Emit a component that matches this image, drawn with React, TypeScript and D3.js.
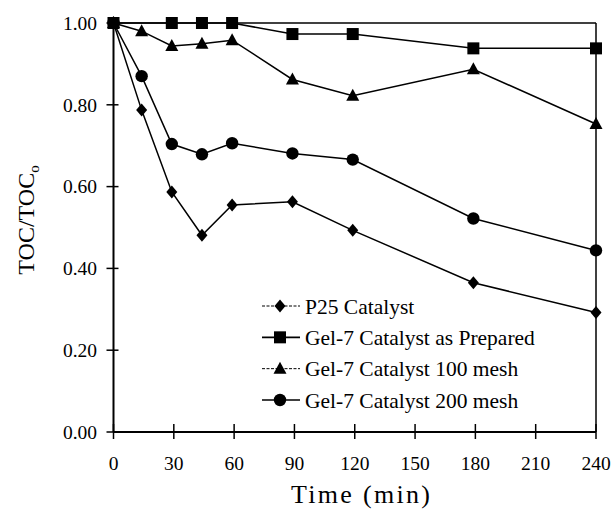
import React from "react";
import * as d3 from "d3";

const seriesNames = [
  "P25 Catalyst",
  "Gel-7 Catalyst as Prepared",
  "Gel-7 Catalyst 100 mesh",
  "Gel-7 Catalyst 200 mesh",
];
const timesP25 = [0, 14, 29, 44, 59, 89, 119, 179, 240];
const valuesP25 = [1.0, 0.787, 0.587, 0.481, 0.555, 0.563, 0.493, 0.365, 0.292];
const timesPrepared = [0, 29, 44, 59, 89, 119, 179, 240];
const valuesPrepared = [1.0, 1.0, 1.0, 1.0, 0.973, 0.973, 0.938, 0.938];
const times100 = [0, 14, 29, 44, 59, 89, 119, 179, 240];
const values100 = [1.0, 0.98, 0.944, 0.949, 0.958, 0.862, 0.822, 0.887, 0.753];
const times200 = [0, 14, 29, 44, 59, 89, 119, 179, 240];
const values200 = [1.0, 0.87, 0.704, 0.679, 0.706, 0.681, 0.666, 0.522, 0.444];
const xTicks = [0, 30, 60, 90, 120, 150, 180, 210, 240];
const yTicks = [0, 0.2, 0.4, 0.6, 0.8, 1.0];

const W = 613;
const H = 518;
const FONT = "'Liberation Serif', 'Times New Roman', serif";

type Shape = "diamond" | "square" | "triangle" | "circle";

function Marker({ shape, x, y }: { shape: Shape; x: number; y: number }) {
  if (shape === "square") return <rect x={x - 6} y={y - 6} width={12} height={12} fill="#000" />;
  if (shape === "circle") return <circle cx={x} cy={y} r={6.2} fill="#000" />;
  if (shape === "triangle")
    return <path d={`M${x},${y - 7} L${x + 6.5},${y + 5} L${x - 6.5},${y + 5} Z`} fill="#000" />;
  return <path d={`M${x},${y - 6.5} L${x + 5.5},${y} L${x},${y + 6.5} L${x - 5.5},${y} Z`} fill="#000" />;
}

export default function App() {
  const x = d3.scaleLinear().domain([0, 240]).range([113.5, 596]);
  const y = d3.scaleLinear().domain([0, 1]).range([432, 23]);
  const line = d3
    .line<[number, number]>()
    .x((d) => x(d[0]))
    .y((d) => y(d[1]));

  const series: { name: string; t: number[]; v: number[]; shape: Shape; dash?: string }[] = [
    { name: seriesNames[0], t: timesP25, v: valuesP25, shape: "diamond", dash: "3,1.5" },
    { name: seriesNames[2], t: times100, v: values100, shape: "triangle", dash: "3,1.5" },
    { name: seriesNames[3], t: times200, v: values200, shape: "circle" },
    { name: seriesNames[1], t: timesPrepared, v: valuesPrepared, shape: "square" },
  ];
  const legendOrder = [series[0], series[3], series[1], series[2]];
  const legendY = d3.scaleLinear().domain([0, 3]).range([306, 400]);

  return (
    <svg width={W} height={H} style={{ display: "block", position: "absolute", left: 0, top: 0, background: "#fff" }}>
      <rect x={0} y={0} width={W} height={H} fill="#fff" />
      {/* frame */}
      <line x1={x(0)} x2={x(240)} y1={y(1)} y2={y(1)} stroke="#000" strokeWidth={1.5} />
      <line x1={x(240)} x2={x(240)} y1={y(1)} y2={y(0)} stroke="#000" strokeWidth={1.5} />
      {/* axes */}
      <line x1={x(0)} x2={x(0)} y1={y(1)} y2={y(0)} stroke="#000" strokeWidth={2} />
      <line x1={x(0)} x2={x(240)} y1={y(0)} y2={y(0)} stroke="#000" strokeWidth={2} />
      {yTicks.map((t) => (
        <g key={"y" + t}>
          <line x1={x(0) - 7} x2={x(0) + 5} y1={y(t)} y2={y(t)} stroke="#000" strokeWidth={1.5} />
          <text x={97} y={y(t)} dy="0.35em" textAnchor="end" fontFamily={FONT} fontSize={19.5} fill="#000">
            {d3.format(".2f")(t)}
          </text>
        </g>
      ))}
      {xTicks.map((t) => (
        <g key={"x" + t}>
          <line x1={x(t)} x2={x(t)} y1={y(0) - 8} y2={y(0) + 7} stroke="#000" strokeWidth={1.5} />
          <text x={x(t)} y={470} textAnchor="middle" fontFamily={FONT} fontSize={19.5} fill="#000">
            {t}
          </text>
        </g>
      ))}
      {/* series */}
      {series.map((s) => {
        const pts = s.t.map((t, i) => [t, s.v[i]] as [number, number]);
        return (
          <g key={s.name}>
            <path d={line(pts) || ""} fill="none" stroke="#000" strokeWidth={1.5} />
            {pts.map((p, i) => (
              <Marker key={i} shape={s.shape} x={x(p[0])} y={y(p[1])} />
            ))}
          </g>
        );
      })}
      {/* legend */}
      {legendOrder.map((s, i) => (
        <g key={"leg" + i}>
          <line
            x1={262}
            x2={300}
            y1={legendY(i)}
            y2={legendY(i)}
            stroke="#000"
            strokeWidth={s.dash ? 1 : 1.6}
            strokeDasharray={s.dash}
          />
          <Marker shape={s.shape} x={280} y={legendY(i)} />
          <text x={305} y={legendY(i)} dy="0.35em" fontFamily={FONT} fontSize={21.5} fill="#000">
            {s.name}
          </text>
        </g>
      ))}
      {/* axis titles */}
      <text x={291} y={503} fontFamily={FONT} fontSize={26} textLength={139} lengthAdjust="spacing" fill="#000">
        Time (min)
      </text>
      <text
        transform={`translate(34,220) rotate(-90)`}
        textAnchor="middle"
        fontFamily={FONT}
        fontSize={24}
        fill="#000"
      >
        TOC/TOC<tspan fontSize={15} dy={5}>o</tspan>
      </text>
    </svg>
  );
}
